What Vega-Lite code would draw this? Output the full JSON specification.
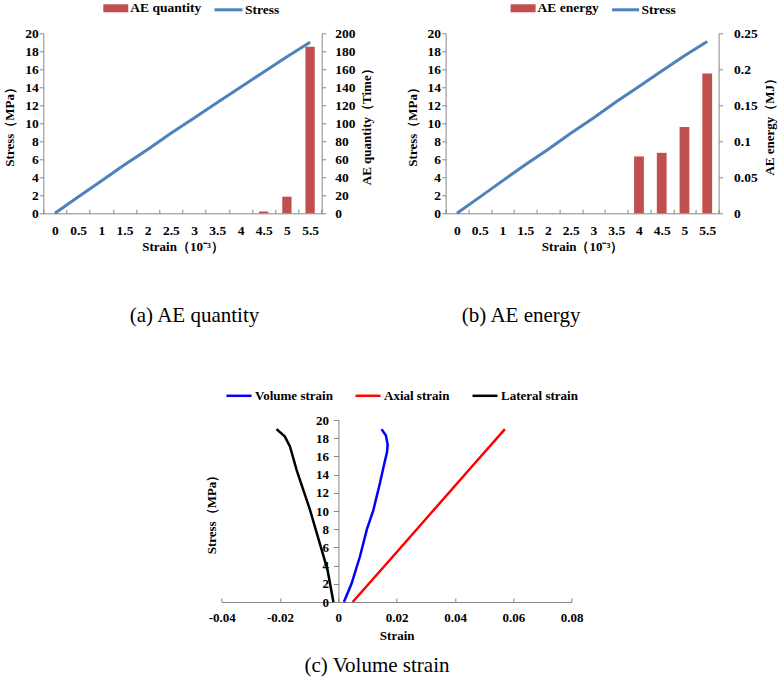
{
  "$schema": "https://vega.github.io/schema/vega-lite/v6.json",
  "autosize": {"type": "none"},
  "padding": {"left": 43.3, "top": 33.3, "right": 735.7, "bottom": 648.7},
  "datasets": {
    "ab": [
      {"strain": "0", "stress_a": 0, "ae_quantity": 0, "stress_b": 0, "ae_energy": 0},
      {"strain": "0.5", "stress_a": 1.8, "ae_quantity": 0, "stress_b": 1.8, "ae_energy": 0},
      {"strain": "1", "stress_a": 3.6, "ae_quantity": 0, "stress_b": 3.6, "ae_energy": 0},
      {"strain": "1.5", "stress_a": 5.4, "ae_quantity": 0, "stress_b": 5.4, "ae_energy": 0},
      {"strain": "2", "stress_a": 7.1, "ae_quantity": 0, "stress_b": 7.1, "ae_energy": 0},
      {"strain": "2.5", "stress_a": 8.9, "ae_quantity": 0, "stress_b": 8.9, "ae_energy": 0},
      {"strain": "3", "stress_a": 10.6, "ae_quantity": 0, "stress_b": 10.6, "ae_energy": 0},
      {"strain": "3.5", "stress_a": 12.3, "ae_quantity": 0, "stress_b": 12.4, "ae_energy": 0},
      {"strain": "4", "stress_a": 14.0, "ae_quantity": 0, "stress_b": 14.1, "ae_energy": 0.079},
      {"strain": "4.5", "stress_a": 15.7, "ae_quantity": 2, "stress_b": 15.8, "ae_energy": 0.084},
      {"strain": "5", "stress_a": 17.4, "ae_quantity": 18.5, "stress_b": 17.5, "ae_energy": 0.12},
      {"strain": "5.5", "stress_a": 19.0, "ae_quantity": 185, "stress_b": 19.1, "ae_energy": 0.194}
    ],
    "c": [
      {"series": "Volume strain", "strain": 0.0019, "stress": 0},
      {"series": "Volume strain", "strain": 0.0045, "stress": 2},
      {"series": "Volume strain", "strain": 0.0074, "stress": 5},
      {"series": "Volume strain", "strain": 0.0098, "stress": 8},
      {"series": "Volume strain", "strain": 0.012, "stress": 10.1},
      {"series": "Volume strain", "strain": 0.0142, "stress": 13},
      {"series": "Volume strain", "strain": 0.0156, "stress": 15},
      {"series": "Volume strain", "strain": 0.0167, "stress": 16.5},
      {"series": "Volume strain", "strain": 0.0169, "stress": 17.3},
      {"series": "Volume strain", "strain": 0.0163, "stress": 18.3},
      {"series": "Volume strain", "strain": 0.0148, "stress": 19},
      {"series": "Axial strain", "strain": 0.0049, "stress": 0},
      {"series": "Axial strain", "strain": 0.0187, "stress": 5},
      {"series": "Axial strain", "strain": 0.0324, "stress": 10},
      {"series": "Axial strain", "strain": 0.0461, "stress": 15},
      {"series": "Axial strain", "strain": 0.0571, "stress": 19},
      {"series": "Lateral strain", "strain": -0.0017, "stress": 0},
      {"series": "Lateral strain", "strain": -0.0037, "stress": 3.5},
      {"series": "Lateral strain", "strain": -0.0097, "stress": 10.1},
      {"series": "Lateral strain", "strain": -0.0143, "stress": 14.5},
      {"series": "Lateral strain", "strain": -0.0166, "stress": 17.1},
      {"series": "Lateral strain", "strain": -0.0184, "stress": 18.2},
      {"series": "Lateral strain", "strain": -0.0212, "stress": 19}
    ]
  },
  "columns": 2,
  "align": "none",
  "bounds": "flush",
  "spacing": {"column": 123.3, "row": 206.7},
  "resolve": {
    "scale": {"fill": "independent", "stroke": "independent", "x": "independent", "y": "independent"},
    "legend": {"fill": "independent", "stroke": "independent"}
  },
  "concat": [
    {
      "width": 278.4,
      "height": 180,
      "data": {"name": "ab"},
      "title": {"text": "(a) AE quantity", "orient": "bottom", "anchor": "middle", "frame": "group", "dx": 12, "offset": 52},
      "encoding": {
        "x": {
          "field": "strain", "type": "ordinal", "sort": null,
          "scale": {"paddingInner": 0, "paddingOuter": 0},
          "axis": {"title": "Strain（10⁻³）", "labelAngle": 0, "tickBand": "extent", "tickSize": -4, "labelPadding": 14.3, "titlePadding": 3}
        }
      },
      "layer": [
        {
          "mark": {"type": "bar", "width": {"band": 0.4}},
          "encoding": {
            "y": {
              "field": "ae_quantity", "type": "quantitative",
              "scale": {"domain": [0, 200], "nice": false},
              "axis": {"orient": "right", "title": "AE quantity（Time）", "values": [0, 20, 40, 60, 80, 100, 120, 140, 160, 180, 200], "labelPadding": 9, "titleAngle": 270, "titleBaseline": "top", "titlePadding": 6}
            },
            "fill": {
              "datum": "AE quantity",
              "scale": {"range": ["#C0504D"]},
              "legend": {"orient": "none", "legendX": 60, "legendY": -37.5, "title": null, "direction": "horizontal", "symbolType": "M-1,-0.32H1V0.32H-1Z", "symbolSize": 625, "symbolStrokeWidth": 0, "labelOffset": 2}
            }
          }
        },
        {
          "mark": {"type": "line", "strokeWidth": 3},
          "encoding": {
            "y": {
              "field": "stress_a", "type": "quantitative",
              "scale": {"domain": [0, 20], "nice": false},
              "axis": {"orient": "left", "title": "Stress（MPa）", "values": [0, 2, 4, 6, 8, 10, 12, 14, 16, 18, 20], "labelPadding": 1, "titlePadding": 8}
            },
            "stroke": {
              "datum": "Stress",
              "scale": {"range": ["#4F81BD"]},
              "legend": {"orient": "none", "legendX": 169.7, "legendY": -39, "title": null, "direction": "horizontal", "symbolType": "stroke", "symbolSize": 784, "symbolStrokeWidth": 3, "labelOffset": 1}
            }
          }
        }
      ],
      "resolve": {"scale": {"y": "independent"}}
    },
    {
      "width": 273,
      "height": 180,
      "data": {"name": "ab"},
      "title": {"text": "(b) AE energy", "orient": "bottom", "anchor": "middle", "frame": "group", "dx": -61, "offset": 52},
      "encoding": {
        "x": {
          "field": "strain", "type": "ordinal", "sort": null,
          "scale": {"paddingInner": 0, "paddingOuter": 0},
          "axis": {"title": "Strain（10⁻³）", "labelAngle": 0, "tickBand": "extent", "tickSize": -4, "labelPadding": 14.3, "titlePadding": 3}
        }
      },
      "layer": [
        {
          "mark": {"type": "bar", "width": {"band": 0.43}},
          "encoding": {
            "y": {
              "field": "ae_energy", "type": "quantitative",
              "scale": {"domain": [0, 0.25], "nice": false},
              "axis": {"orient": "right", "title": "AE energy（MJ）", "values": [0, 0.05, 0.1, 0.15, 0.2, 0.25], "labelExpr": "datum.value + ''", "labelPadding": 11, "titleAngle": 270, "titleBaseline": "top", "titlePadding": 6}
            },
            "fill": {
              "datum": "AE energy",
              "scale": {"range": ["#C0504D"]},
              "legend": {"orient": "none", "legendX": 65, "legendY": -37.5, "title": null, "direction": "horizontal", "symbolType": "M-1,-0.32H1V0.32H-1Z", "symbolSize": 625, "symbolStrokeWidth": 0, "labelOffset": 2}
            }
          }
        },
        {
          "mark": {"type": "line", "strokeWidth": 3},
          "encoding": {
            "y": {
              "field": "stress_b", "type": "quantitative",
              "scale": {"domain": [0, 20], "nice": false},
              "axis": {"orient": "left", "title": "Stress（MPa）", "values": [0, 2, 4, 6, 8, 10, 12, 14, 16, 18, 20], "labelPadding": 1, "titlePadding": 8}
            },
            "stroke": {
              "datum": "Stress",
              "scale": {"range": ["#4F81BD"]},
              "legend": {"orient": "none", "legendX": 165, "legendY": -38.5, "title": null, "direction": "horizontal", "symbolType": "stroke", "symbolSize": 729, "symbolStrokeWidth": 3, "labelOffset": 1}
            }
          }
        }
      ],
      "resolve": {"scale": {"y": "independent"}}
    },
    {
      "width": 278.4,
      "height": 182,
      "data": {"name": "c"},
      "title": {"text": "(c) Volume strain", "orient": "bottom", "anchor": "middle", "frame": "group", "dx": 194.5, "offset": 13},
      "mark": {"type": "line", "strokeWidth": 2.5},
      "encoding": {
        "x": {
          "field": "strain", "type": "quantitative",
          "scale": {"domain": [-0.04, 0.08], "range": [178.4, 528.4], "nice": false, "zero": false},
          "axis": {"title": "Strain", "titleX": 353.4, "values": [-0.04, -0.02, 0, 0.02, 0.04, 0.06, 0.08], "labelExpr": "datum.value + ''", "labelFlush": false, "labelFontSize": 13, "tickSize": -4, "labelPadding": 13, "titlePadding": 5}
        },
        "y": {
          "field": "stress", "type": "quantitative",
          "scale": {"domain": [0, 20], "nice": false},
          "axis": {"title": "Stress（MPa）", "values": [0, 2, 4, 6, 8, 10, 12, 14, 16, 18, 20], "offset": -295.1, "labelFontSize": 13, "tickSize": 5, "labelPadding": 5, "titleX": -119.5}
        },
        "stroke": {
          "field": "series", "type": "nominal",
          "scale": {"domain": ["Volume strain", "Axial strain", "Lateral strain"], "range": ["#0000FF", "#FF0000", "#000000"]},
          "legend": {"orient": "none", "legendX": 181.7, "legendY": -38.2, "title": null, "direction": "horizontal", "symbolType": "stroke", "symbolSize": 625, "symbolStrokeWidth": 2.5, "labelOffset": 2, "columnPadding": 17, "labelFontSize": 13}
        },
        "order": {"field": "stress", "type": "quantitative"}
      }
    }
  ],
  "config": {
    "view": {"stroke": null},
    "font": "Liberation Serif",
    "axis": {
      "grid": false,
      "labelFont": "Liberation Serif", "labelFontWeight": "bold", "labelFontSize": 13.5, "labelColor": "#000000",
      "titleFont": "Liberation Serif", "titleFontWeight": "bold", "titleFontSize": 13, "titleColor": "#000000",
      "domainColor": "#868686", "tickColor": "#868686", "tickSize": 4, "labelOverlap": false
    },
    "legend": {
      "labelFont": "Liberation Serif", "labelFontWeight": "bold", "labelFontSize": 13.5, "labelColor": "#000000", "padding": 0
    },
    "title": {"font": "Liberation Serif", "fontWeight": "normal", "fontSize": 21, "color": "#000000"}
  }
}
